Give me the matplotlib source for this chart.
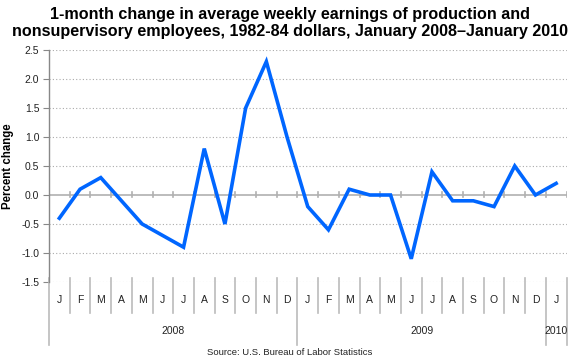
import numpy as np
import matplotlib
matplotlib.use('Agg')
import matplotlib.pyplot as plt
from matplotlib.transforms import blended_transform_factory

plt.rcParams['font.family'] = ['Liberation Sans', 'DejaVu Sans']

# data
months = ['J', 'F', 'M', 'A', 'M', 'J', 'J', 'A', 'S', 'O', 'N', 'D',
          'J', 'F', 'M', 'A', 'M', 'J', 'J', 'A', 'S', 'O', 'N', 'D',
          'J']
years = ['2008', '2009', '2010']
year_lengths = [12, 12, 1]
pct_change = [-0.4, 0.1, 0.3, -0.1, -0.5, -0.7, -0.9, 0.8, -0.5, 1.5, 2.3, 1.0,
              -0.2, -0.6, 0.1, 0.0, 0.0, -1.1, 0.4, -0.1, -0.1, -0.2, 0.5, 0.0,
              0.2]
yticks = [-1.5, -1.0, -0.5, 0.0, 0.5, 1.0, 1.5, 2.0, 2.5]

title = ('1-month change in average weekly earnings of production and\n'
         'nonsupervisory employees, 1982-84 dollars, January 2008\u2013January 2010')

grey = '#b0b0b0'

fig = plt.figure(figsize=(5.8, 3.6), dpi=100)
ax = fig.add_axes([49 / 580, 78 / 360, 517.5 / 580, 232 / 360])

x = np.arange(len(pct_change))
ax.plot(x, pct_change, color='#0066ff', lw=2.6, solid_joinstyle='miter', zorder=3)

ax.set_xlim(-0.5, len(pct_change) - 0.5)
ax.set_ylim(-1.5, 2.5)
ax.set_yticks(yticks)
ax.set_yticklabels(['%.1f' % v for v in yticks], fontsize=7.5, color='#222222')
ax.tick_params(axis='y', length=4, width=0.8, color='#888888', pad=3)
ax.set_xticks([])
for v in yticks:
    if v != 0:
        ax.axhline(v, color='#aaaaaa', lw=0.8, ls=(0, (1, 2)), zorder=1)
ax.axhline(0, color=grey, lw=1.2, zorder=2)

for s in ['top', 'right', 'bottom']:
    ax.spines[s].set_visible(False)
ax.spines['left'].set_color('#888888')
ax.spines['left'].set_linewidth(1.0)

# little ticks on the zero line
for b in range(1, len(pct_change) + 1):
    ax.plot([b - 0.5, b - 0.5], [-0.04, 0.06], color=grey, lw=1.2, zorder=2)

# category labels below the plot
tr = blended_transform_factory(ax.transData, fig.transFigure)
year_edges = np.cumsum([0] + year_lengths)
for b in range(len(months) + 1):
    low = 0.042 if b in year_edges else 0.131
    ax.plot([b - 0.5, b - 0.5], [0.228, low], color='#bbbbbb', lw=1.2,
            transform=tr, clip_on=False)
for i, m in enumerate(months):
    fig.text(i, 0.167, m, transform=tr, ha='center', va='center',
             fontsize=7.5, color='#222222')
for yr, a, b in zip(years, year_edges[:-1], year_edges[1:]):
    fig.text((a + b - 1) / 2, 0.081, yr, transform=tr, ha='center',
             va='center', fontsize=7.5, color='#222222')

fig.text(0.014, 0.539, 'Percent change', rotation=90, ha='center', va='center',
         fontsize=8.3, fontweight='bold')
fig.text(0.5, 0.935, title, ha='center', va='center', fontsize=11.6,
         fontweight='bold', linespacing=1.15)
fig.text(0.5, 0.022, 'Source: U.S. Bureau of Labor Statistics', ha='center',
         va='center', fontsize=6.8, color='#222222')

fig.savefig('out.png', dpi=100)
